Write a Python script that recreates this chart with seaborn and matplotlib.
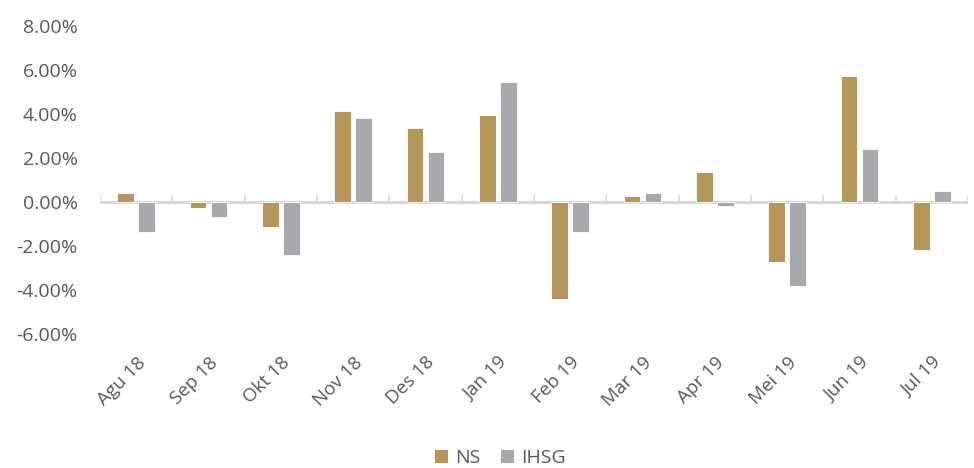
import numpy as np
import pandas as pd
import matplotlib
matplotlib.use("Agg")
import matplotlib.pyplot as plt
import seaborn as sns
from matplotlib.ticker import FuncFormatter

# data (monthly return, %)
months = ["Agu 18", "Sep 18", "Okt 18", "Nov 18", "Des 18", "Jan 19",
          "Feb 19", "Mar 19", "Apr 19", "Mei 19", "Jun 19", "Jul 19"]
ns = [0.41, -0.25, -1.14, 4.15, 3.35, 3.95, -4.41, 0.29, 1.35, -2.74, 5.73, -2.17]
ihsg = [-1.36, -0.68, -2.41, 3.82, 2.27, 5.45, -1.37, 0.39, -0.17, -3.80, 2.41, 0.50]
series = ["NS", "IHSG"]
colors = ["#B5975B", "#A7A9AC"]

df = pd.DataFrame({"month": months * 2,
                   "value": ns + ihsg,
                   "series": ["NS"] * len(ns) + ["IHSG"] * len(ihsg)})

sns.set_style("white")
plt.rcParams["font.family"] = ["Open Sans", "DejaVu Sans"]
text_col = "#595959"
fs = 14

fig = plt.figure(figsize=(9.74, 4.68), dpi=100)
ax = fig.add_axes([100 / 974, 1 - 334 / 468, 868 / 974, 308 / 468])

sns.barplot(data=df, x="month", y="value", hue="series", hue_order=series,
            palette=colors, width=0.58, gap=0.22, ax=ax,
            edgecolor="white", linewidth=0.6, saturation=1)

ax.set_xlim(-0.5, len(months) - 0.5)
ax.set_ylim(-6, 8)
ax.set_yticks(np.arange(-6, 9, 2))
ax.yaxis.set_major_formatter(FuncFormatter(lambda v, p: f"{v:.2f}%"))
ax.set_xlabel("")
ax.set_ylabel("")

for s in ax.spines.values():
    s.set_visible(False)

# zero line and category boundary ticks
ax.axhline(0, color="#D9D9D9", lw=2.2, zorder=0)
ax.vlines(np.arange(-0.5, len(months)), 0, 0.3, color="#D9D9D9", lw=1.2, zorder=0)

ax.tick_params(axis="y", length=0, pad=16, labelsize=fs, labelcolor=text_col)
ax.tick_params(axis="x", length=0, pad=14, labelsize=13.5, labelcolor=text_col)
for lbl in ax.get_xticklabels():
    lbl.set_rotation(45)
    lbl.set_ha("right")
    lbl.set_rotation_mode("anchor")

handles, labels = ax.get_legend_handles_labels()
ax.get_legend().remove()
leg = fig.legend(handles, labels, loc="center", bbox_to_anchor=(500 / 974, 1 - 458 / 468),
                 ncol=2, frameon=False, fontsize=fs, handlelength=0.7,
                 handleheight=0.7, handletextpad=0.4, columnspacing=1.0)
for t in leg.get_texts():
    t.set_color(text_col)

fig.savefig("out.png", dpi=100)
